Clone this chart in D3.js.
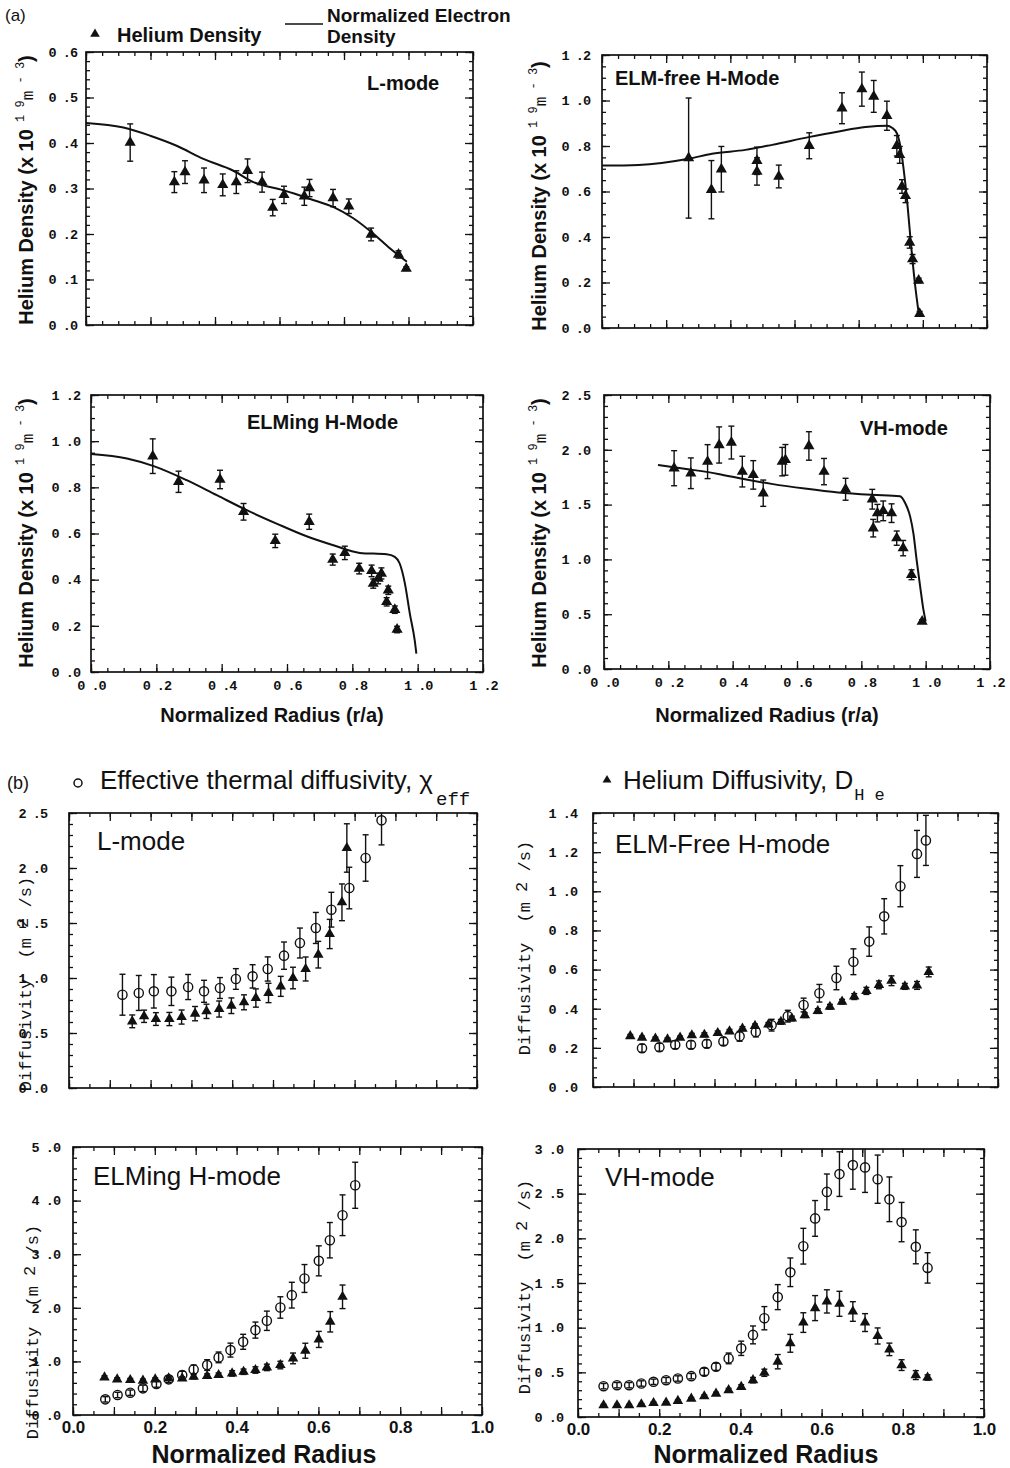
<!DOCTYPE html>
<html>
<head>
<meta charset="utf-8">
<script src="https://cdn.jsdelivr.net/npm/d3@7"></script>
<style>
  body { margin: 0; background: #fff; }
</style>
</head>
<body>
<div id="fig"></div>
<script>
// ---------- data (x = r/a, y = value, e = half error bar) ----------

// (a) helium density points [r/a, nHe, err]  and normalized electron density [r/a, ne]
var heLMode = [[0.137,0.401,0.041],[0.274,0.314,0.023],[0.307,0.336,0.025],[0.366,0.318,0.027],[0.424,0.308,0.024],
  [0.466,0.314,0.025],[0.501,0.339,0.026],[0.546,0.314,0.022],[0.579,0.258,0.018],[0.614,0.286,0.019],[0.677,0.283,0.02],
  [0.693,0.301,0.019],[0.766,0.279,0.019],[0.815,0.261,0.016],[0.884,0.199,0.014],[0.969,0.155,0.008],[0.993,0.124,0.004]];
var neLMode = [[0,0.444],[0.116,0.434],[0.199,0.416],[0.281,0.394],[0.364,0.365],[0.457,0.339],[0.519,0.314],
  [0.612,0.296],[0.695,0.277],[0.768,0.259],[0.83,0.234],[0.892,0.2],[0.943,0.168],[0.995,0.139]];

var heElmFree = [[0.27,0.747,0.264],[0.341,0.608,0.128],[0.372,0.698,0.1],[0.483,0.735,0.06],[0.483,0.688,0.06],
  [0.551,0.666,0.05],[0.646,0.801,0.057],[0.748,0.966,0.068],[0.81,1.05,0.075],[0.847,1.018,0.07],[0.888,0.933,0.064],
  [0.919,0.801,0.045],[0.928,0.761,0.037],[0.935,0.622,0.03],[0.946,0.581,0.03],[0.959,0.376,0.025],[0.968,0.303,0.02],
  [0.987,0.209,0.01],[0.99,0.063,0.01]];
var neElmFree = [[0,0.714],[0.114,0.717],[0.27,0.744],[0.343,0.766],[0.447,0.783],[0.53,0.805],[0.644,0.839],
  [0.738,0.864],[0.821,0.883],[0.888,0.889],[0.904,0.88],[0.919,0.856],[0.93,0.798],[0.94,0.70],[0.951,0.56],
  [0.961,0.40],[0.975,0.2],[0.987,0.066]];

var heElming = [[0.189,0.935,0.075],[0.268,0.824,0.046],[0.395,0.834,0.04],[0.467,0.694,0.036],[0.564,0.568,0.029],
  [0.668,0.651,0.033],[0.74,0.487,0.024],[0.777,0.516,0.029],[0.821,0.448,0.023],[0.859,0.438,0.025],[0.864,0.383,0.02],
  [0.879,0.405,0.023],[0.889,0.427,0.024],[0.905,0.304,0.018],[0.91,0.354,0.018],[0.93,0.27,0.016],[0.937,0.184,0.014]];
var neElming = [[0,0.944],[0.11,0.925],[0.192,0.892],[0.293,0.831],[0.385,0.766],[0.477,0.701],[0.568,0.643],
  [0.66,0.588],[0.742,0.549],[0.823,0.516],[0.905,0.51],[0.93,0.499],[0.945,0.47],[0.961,0.383],[0.976,0.253],
  [0.991,0.137],[0.996,0.08]];

var heVH = [[0.218,1.832,0.16],[0.27,1.786,0.14],[0.322,1.892,0.155],[0.358,2.044,0.165],[0.396,2.066,0.15],
  [0.43,1.801,0.14],[0.464,1.771,0.13],[0.495,1.604,0.12],[0.554,1.892,0.13],[0.564,1.908,0.14],[0.637,2.035,0.13],
  [0.684,1.801,0.12],[0.751,1.64,0.1],[0.834,1.549,0.09],[0.837,1.285,0.08],[0.85,1.422,0.08],[0.868,1.443,0.09],
  [0.894,1.422,0.085],[0.91,1.194,0.065],[0.93,1.103,0.07],[0.956,0.86,0.045],[0.989,0.434,0.015]];
var neVH = [[0.168,1.862],[0.261,1.823],[0.355,1.78],[0.438,1.731],[0.521,1.689],[0.624,1.646],[0.728,1.61],
  [0.832,1.589],[0.92,1.577],[0.937,1.51],[0.952,1.388],[0.962,1.236],[0.972,0.993],[0.983,0.75],[0.993,0.541],[1.0,0.434]];

// (b) chi_eff (open circles) and D_He (triangles) [r/a, D, err]
var chiLMode = [[0.131,0.848,0.186],[0.171,0.864,0.159],[0.208,0.879,0.152],[0.251,0.879,0.129],[0.292,0.918,0.114],
  [0.331,0.879,0.1],[0.370,0.909,0.095],[0.409,0.991,0.094],[0.450,1.015,0.106],[0.487,1.082,0.11],[0.527,1.203,0.124],
  [0.566,1.318,0.136],[0.605,1.455,0.141],[0.643,1.621,0.158],[0.687,1.818,0.189],[0.727,2.091,0.211],[0.766,2.433,0.223]];
var dheLMode = [[0.155,0.606,0.058],[0.184,0.652,0.056],[0.213,0.627,0.058],[0.246,0.627,0.06],[0.276,0.645,0.064],
  [0.309,0.676,0.065],[0.337,0.697,0.065],[0.368,0.718,0.073],[0.398,0.748,0.071],[0.429,0.779,0.068],[0.458,0.818,0.083],
  [0.489,0.864,0.088],[0.519,0.924,0.091],[0.549,1.0,0.098],[0.580,1.082,0.109],[0.611,1.212,0.121],[0.639,1.4,0.133],
  [0.669,1.688,0.167],[0.681,2.182,0.22]];

var chiElmFree = [[0.121,0.198,0.02],[0.164,0.203,0.02],[0.203,0.216,0.02],[0.242,0.216,0.02],[0.281,0.221,0.02],
  [0.322,0.233,0.02],[0.362,0.259,0.025],[0.402,0.281,0.025],[0.441,0.316,0.03],[0.481,0.362,0.03],[0.520,0.419,0.035],
  [0.559,0.479,0.045],[0.601,0.557,0.06],[0.643,0.640,0.066],[0.682,0.743,0.075],[0.719,0.872,0.09],[0.759,1.026,0.105],
  [0.800,1.191,0.12],[0.822,1.26,0.128]];
var dheElmFree = [[0.092,0.26,0.008],[0.121,0.252,0.008],[0.154,0.247,0.008],[0.184,0.243,0.008],[0.215,0.252,0.008],
  [0.244,0.264,0.01],[0.275,0.267,0.01],[0.308,0.276,0.01],[0.337,0.284,0.01],[0.369,0.298,0.01],[0.400,0.312,0.01],
  [0.433,0.319,0.01],[0.464,0.333,0.012],[0.491,0.35,0.012],[0.523,0.367,0.012],[0.555,0.388,0.012],[0.585,0.41,0.012],
  [0.615,0.436,0.012],[0.645,0.462,0.015],[0.675,0.491,0.018],[0.706,0.522,0.02],[0.737,0.543,0.025],[0.770,0.514,0.015],
  [0.800,0.519,0.02],[0.829,0.588,0.025]];

var chiElming = [[0.079,0.292,0.05],[0.109,0.373,0.05],[0.140,0.416,0.05],[0.171,0.497,0.06],[0.204,0.578,0.06],
  [0.234,0.665,0.06],[0.267,0.745,0.07],[0.295,0.851,0.08],[0.328,0.932,0.1],[0.356,1.075,0.1],[0.385,1.211,0.13],
  [0.416,1.366,0.14],[0.446,1.584,0.15],[0.474,1.758,0.18],[0.507,2.006,0.2],[0.535,2.236,0.24],[0.566,2.547,0.26],
  [0.601,2.876,0.28],[0.628,3.261,0.33],[0.659,3.727,0.38],[0.690,4.286,0.43]];
var dheElming = [[0.077,0.702,0.03],[0.108,0.665,0.03],[0.140,0.652,0.03],[0.171,0.64,0.03],[0.201,0.665,0.03],
  [0.234,0.683,0.03],[0.267,0.683,0.03],[0.295,0.714,0.04],[0.328,0.727,0.04],[0.356,0.745,0.04],[0.389,0.776,0.05],
  [0.417,0.807,0.05],[0.446,0.839,0.06],[0.474,0.888,0.06],[0.507,0.932,0.07],[0.538,1.056,0.1],[0.568,1.199,0.14],
  [0.601,1.41,0.15],[0.629,1.739,0.19],[0.659,2.205,0.22]];

var chiVH = [[0.063,0.345,0.03],[0.096,0.356,0.03],[0.126,0.356,0.03],[0.156,0.375,0.03],[0.186,0.394,0.03],
  [0.217,0.412,0.03],[0.246,0.431,0.03],[0.279,0.457,0.03],[0.311,0.506,0.04],[0.340,0.562,0.04],[0.371,0.656,0.06],
  [0.402,0.769,0.08],[0.431,0.919,0.1],[0.459,1.106,0.13],[0.492,1.342,0.14],[0.523,1.62,0.16],[0.555,1.912,0.2],
  [0.584,2.223,0.2],[0.613,2.52,0.2],[0.644,2.719,0.25],[0.677,2.82,0.27],[0.707,2.794,0.28],[0.738,2.662,0.27],
  [0.767,2.437,0.25],[0.797,2.182,0.22],[0.832,1.905,0.19],[0.861,1.669,0.17]];
var dheVH = [[0.063,0.131,0.01],[0.096,0.131,0.01],[0.126,0.131,0.01],[0.156,0.142,0.01],[0.186,0.157,0.01],
  [0.217,0.161,0.01],[0.246,0.18,0.012],[0.279,0.206,0.012],[0.311,0.232,0.015],[0.340,0.262,0.015],[0.371,0.3,0.02],
  [0.402,0.337,0.025],[0.431,0.412,0.03],[0.459,0.495,0.04],[0.492,0.619,0.08],[0.523,0.825,0.1],[0.555,1.057,0.11],
  [0.584,1.219,0.14],[0.613,1.294,0.13],[0.644,1.267,0.14],[0.677,1.181,0.11],[0.707,1.057,0.1],[0.738,0.907,0.09],
  [0.767,0.757,0.07],[0.797,0.581,0.06],[0.832,0.469,0.05],[0.861,0.442,0.03]];

// tick values
var aXTicks = [0, 0.2, 0.4, 0.6, 0.8, 1.0, 1.2];
var bXTicks = [0, 0.2, 0.4, 0.6, 0.8, 1.0];

// ---------- layout ----------
var sans = "'Liberation Sans', Arial, Helvetica, sans-serif";
var mono = "'Liberation Mono', 'Courier New', monospace";
var ink = "#111";

var svg = d3.select("#fig").append("svg")
  .attr("width", 1010)
  .attr("height", 1468)
  .style("background", "#fff");

var monoFmt = function(d) { return d3.format(".1f")(d).replace(".", " ."); };
var noFmt = function() { return ""; };

function range(max, step) {
  return d3.range(0, max + step / 2, step).map(function(v) { return +v.toFixed(4); });
}

// one side of ticks (inward), no labels
function side(g, axisFn, scale, vals, size, tr) {
  var ax = axisFn(scale).tickValues(vals).tickSizeInner(-size).tickSizeOuter(0).tickFormat(noFmt);
  var s = g.append("g").attr("transform", tr).call(ax);
  s.select(".domain").remove();
  s.selectAll("line").attr("stroke", ink).attr("stroke-width", 1.3);
  return s;
}

function monoLabels(sel) {
  sel.select(".domain").remove();
  sel.selectAll("text").attr("font-family", mono).attr("font-weight", "bold").attr("font-size", 13.5)
    .attr("letter-spacing", -1).attr("fill", ink);
}

function frame(p, xMax, xMajor, xMinor) {
  var x = d3.scaleLinear().domain([0, xMax]).range([p.left, p.right]);
  var y = d3.scaleLinear().domain([0, p.yMax]).range([p.bottom, p.top]);
  var g = svg.append("g");
  var yMaj = range(p.yMax, p.yStep), yMin = range(p.yMax, p.yMinor);
  var xMaj = range(xMax, xMajor), xMin = range(xMax, xMinor);

  [[d3.axisLeft, "translate(" + p.left + ",0)"], [d3.axisRight, "translate(" + p.right + ",0)"]].forEach(function(a) {
    side(g, a[0], y, yMin, 4, a[1]);
    side(g, a[0], y, yMaj, 8, a[1]);
  });
  [[d3.axisBottom, "translate(0," + p.bottom + ")"], [d3.axisTop, "translate(0," + p.top + ")"]].forEach(function(a) {
    side(g, a[0], x, xMin, 4, a[1]);
    side(g, a[0], x, xMaj, 8, a[1]);
  });

  // y labels (Courier-like)
  g.append("g").attr("transform", "translate(" + p.left + ",0)")
    .call(d3.axisLeft(y).tickValues(yMaj).tickSize(0).tickPadding(p.yPad).tickFormat(monoFmt))
    .call(monoLabels);

  g.append("rect")
    .attr("x", p.left).attr("y", p.top)
    .attr("width", p.right - p.left).attr("height", p.bottom - p.top)
    .attr("fill", "none").attr("stroke", ink).attr("stroke-width", 1.7);

  g.append("clipPath").attr("id", "clip" + p.id)
    .append("rect").attr("x", p.left).attr("y", p.top)
    .attr("width", p.right - p.left).attr("height", p.bottom - p.top);

  return { g: g, x: x, y: y, plot: g.append("g").attr("clip-path", "url(#clip" + p.id + ")") };
}

function errorBars(plot, data, x, y, cap) {
  var eb = plot.append("g").attr("stroke", ink).attr("stroke-width", 1.4);
  eb.selectAll("line.v").data(data).enter().append("line")
    .attr("x1", function(d) { return x(d[0]); }).attr("x2", function(d) { return x(d[0]); })
    .attr("y1", function(d) { return y(d[1] - d[2]); }).attr("y2", function(d) { return y(d[1] + d[2]); });
  [-1, 1].forEach(function(sgn) {
    eb.selectAll("line.c" + sgn).data(data).enter().append("line")
      .attr("x1", function(d) { return x(d[0]) - cap; }).attr("x2", function(d) { return x(d[0]) + cap; })
      .attr("y1", function(d) { return y(d[1] + sgn * d[2]); }).attr("y2", function(d) { return y(d[1] + sgn * d[2]); });
  });
}

function triangles(plot, data, x, y, size) {
  plot.append("g").selectAll("path").data(data).enter().append("path")
    .attr("d", d3.symbol().type(d3.symbolTriangle).size(size))
    .attr("transform", function(d) { return "translate(" + x(d[0]) + "," + y(d[1]) + ")"; })
    .attr("fill", ink);
}

function circles(plot, data, x, y) {
  plot.append("g").selectAll("circle").data(data).enter().append("circle")
    .attr("cx", function(d) { return x(d[0]); }).attr("cy", function(d) { return y(d[1]); })
    .attr("r", 4.6).attr("fill", "none").attr("stroke", ink).attr("stroke-width", 1.4);
}

// ---------- (a) helium density panels ----------
var panelsA = [
  { id: "a1", left: 86, right: 473, top: 52, bottom: 325, yMax: 0.6, yStep: 0.1, yMinor: 0.02, yPad: 9,
    he: heLMode, ne: neLMode, name: "L-mode", nameX: 367, nameY: 90, labX: 33, labY: 190 },
  { id: "a2", left: 602, right: 987, top: 55, bottom: 328, yMax: 1.2, yStep: 0.2, yMinor: 0.05, yPad: 12,
    he: heElmFree, ne: neElmFree, name: "ELM-free H-Mode", nameX: 615, nameY: 85, labX: 546, labY: 196 },
  { id: "a3", left: 91, right: 483, top: 395, bottom: 672, yMax: 1.2, yStep: 0.2, yMinor: 0.05, yPad: 11,
    he: heElming, ne: neElming, name: "ELMing H-Mode", nameX: 247, nameY: 429, labX: 33, labY: 533, titleX: 272 },
  { id: "a4", left: 604, right: 990, top: 395, bottom: 669, yMax: 2.5, yStep: 0.5, yMinor: 0.1, yPad: 14,
    he: heVH, ne: neVH, name: "VH-mode", nameX: 860, nameY: 435, labX: 546, labY: 533, titleX: 767 }
];

panelsA.forEach(function(p) {
  var f = frame(p, 1.2, 0.2, 0.05);
  var x = f.x, y = f.y;

  f.plot.append("path").datum(p.ne)
    .attr("fill", "none").attr("stroke", ink).attr("stroke-width", 2)
    .attr("d", d3.line().curve(d3.curveMonotoneX)
      .x(function(d) { return x(d[0]); })
      .y(function(d) { return y(d[1]); }));
  errorBars(f.plot, p.he, x, y, 3);
  triangles(f.plot, p.he, x, y, 54);

  f.g.append("text").attr("x", p.nameX).attr("y", p.nameY)
    .attr("font-family", sans).attr("font-weight", "bold").attr("font-size", 20).attr("fill", ink)
    .text(p.name);

  var t = f.g.append("text")
    .attr("transform", "translate(" + p.labX + "," + p.labY + ") rotate(-90)")
    .attr("text-anchor", "middle").attr("fill", ink);
  t.append("tspan").attr("font-family", sans).attr("font-weight", "bold").attr("font-size", 20).text("Helium Density (x 10");
  t.append("tspan").attr("font-family", mono).attr("font-size", 12).attr("dy", -9).text(" 1 9");
  t.append("tspan").attr("font-family", mono).attr("font-size", 16).attr("dy", 9).text("m");
  t.append("tspan").attr("font-family", mono).attr("font-size", 12).attr("dy", -9).text(" - 3");
  t.append("tspan").attr("font-family", sans).attr("font-weight", "bold").attr("font-size", 20).attr("dy", 9).text(")");

  if (p.titleX) {
    f.g.append("g").attr("transform", "translate(0," + p.bottom + ")")
      .call(d3.axisBottom(x).tickValues(aXTicks).tickSize(0).tickPadding(8).tickFormat(monoFmt))
      .call(monoLabels);
    f.g.append("text").attr("x", p.titleX).attr("y", 722).attr("text-anchor", "middle")
      .attr("font-family", sans).attr("font-weight", "bold").attr("font-size", 20).attr("fill", ink)
      .text("Normalized Radius (r/a)");
  }
});

// (a) legend
svg.append("text").attr("x", 5).attr("y", 21).attr("font-family", sans).attr("font-size", 17).attr("fill", ink).text("(a)");
svg.append("path").attr("d", d3.symbol().type(d3.symbolTriangle).size(40)())
  .attr("transform", "translate(95,34)").attr("fill", ink);
svg.append("text").attr("x", 117).attr("y", 42).attr("font-family", sans).attr("font-weight", "bold")
  .attr("font-size", 20).attr("fill", ink).text("Helium Density");
svg.append("line").attr("x1", 285).attr("x2", 323).attr("y1", 24).attr("y2", 24)
  .attr("stroke", ink).attr("stroke-width", 1.6);
svg.append("text").attr("x", 327).attr("y", 22).attr("font-family", sans).attr("font-weight", "bold")
  .attr("font-size", 19).attr("fill", ink).text("Normalized Electron");
svg.append("text").attr("x", 327).attr("y", 43).attr("font-family", sans).attr("font-weight", "bold")
  .attr("font-size", 19).attr("fill", ink).text("Density");

// ---------- (b) diffusivity panels ----------
var panelsB = [
  { id: "b1", left: 69, right: 477, top: 813, bottom: 1088, yMax: 2.5, yStep: 0.5, yMinor: 0.1, yPad: 22,
    chi: chiLMode, dhe: dheLMode, name: "L-mode", nameX: 97, nameY: 850, labX: 31, labY: 984 },
  { id: "b2", left: 593, right: 998, top: 813, bottom: 1087, yMax: 1.4, yStep: 0.2, yMinor: 0.05, yPad: 16,
    chi: chiElmFree, dhe: dheElmFree, name: "ELM-Free H-mode", nameX: 615, nameY: 853, labX: 530, labY: 948 },
  { id: "b3", left: 73, right: 482, top: 1147, bottom: 1415, yMax: 5, yStep: 1, yMinor: 0.2, yPad: 13,
    chi: chiElming, dhe: dheElming, name: "ELMing H-mode", nameX: 93, nameY: 1185, labX: 38, labY: 1332, titleX: 264 },
  { id: "b4", left: 578, right: 984, top: 1149, bottom: 1417, yMax: 3, yStep: 0.5, yMinor: 0.1, yPad: 15,
    chi: chiVH, dhe: dheVH, name: "VH-mode", nameX: 605, nameY: 1186, labX: 530, labY: 1287, titleX: 766 }
];

panelsB.forEach(function(p) {
  var f = frame(p, 1.0, 0.1, 0.05);
  var x = f.x, y = f.y;

  errorBars(f.plot, p.chi, x, y, 3);
  circles(f.plot, p.chi, x, y);
  errorBars(f.plot, p.dhe, x, y, 3);
  triangles(f.plot, p.dhe, x, y, 48);

  f.g.append("text").attr("x", p.nameX).attr("y", p.nameY)
    .attr("font-family", sans).attr("font-size", 26).attr("fill", ink)
    .text(p.name);

  var t = f.g.append("text")
    .attr("transform", "translate(" + p.labX + "," + p.labY + ") rotate(-90)")
    .attr("text-anchor", "middle").attr("fill", ink)
    .attr("font-family", mono).attr("font-size", 17).attr("xml:space", "preserve");
  t.append("tspan").text("Diffusivity  (m ");
  t.append("tspan").attr("dy", -3).text("2");
  t.append("tspan").attr("dy", 3).text(" /s)");

  if (p.titleX) {
    var xl = f.g.append("g").attr("transform", "translate(0," + p.bottom + ")")
      .call(d3.axisBottom(x).tickValues(bXTicks).tickSize(0).tickPadding(6).tickFormat(d3.format(".1f")));
    xl.select(".domain").remove();
    xl.selectAll("text").attr("font-family", sans).attr("font-weight", "bold")
      .attr("font-size", 17).attr("fill", ink);
    f.g.append("text").attr("x", p.titleX).attr("y", 1463).attr("text-anchor", "middle")
      .attr("font-family", sans).attr("font-weight", "bold").attr("font-size", 25).attr("fill", ink)
      .text("Normalized Radius");
  }
});

// (b) legend
svg.append("text").attr("x", 7).attr("y", 789).attr("font-family", sans).attr("font-size", 18).attr("fill", ink).text("(b)");
svg.append("circle").attr("cx", 78).attr("cy", 783).attr("r", 4)
  .attr("fill", "none").attr("stroke", ink).attr("stroke-width", 1.5);
var chiT = svg.append("text").attr("x", 100).attr("y", 789)
  .attr("font-family", sans).attr("font-size", 26).attr("fill", ink);
chiT.append("tspan").text("Effective thermal diffusivity, \u03c7");
chiT.append("tspan").attr("font-family", mono).attr("font-size", 19).attr("dx", 3).attr("dy", 16).text("eff");

svg.append("path").attr("d", d3.symbol().type(d3.symbolTriangle).size(34)())
  .attr("transform", "translate(607,780)").attr("fill", ink);
var dT = svg.append("text").attr("x", 623).attr("y", 789)
  .attr("font-family", sans).attr("font-size", 26).attr("fill", ink);
dT.append("tspan").text("Helium Diffusivity, D");
dT.append("tspan").attr("font-family", mono).attr("font-size", 17).attr("dx", 1).attr("dy", 11)
  .attr("xml:space", "preserve").text("H e");
</script>
</body>
</html>
